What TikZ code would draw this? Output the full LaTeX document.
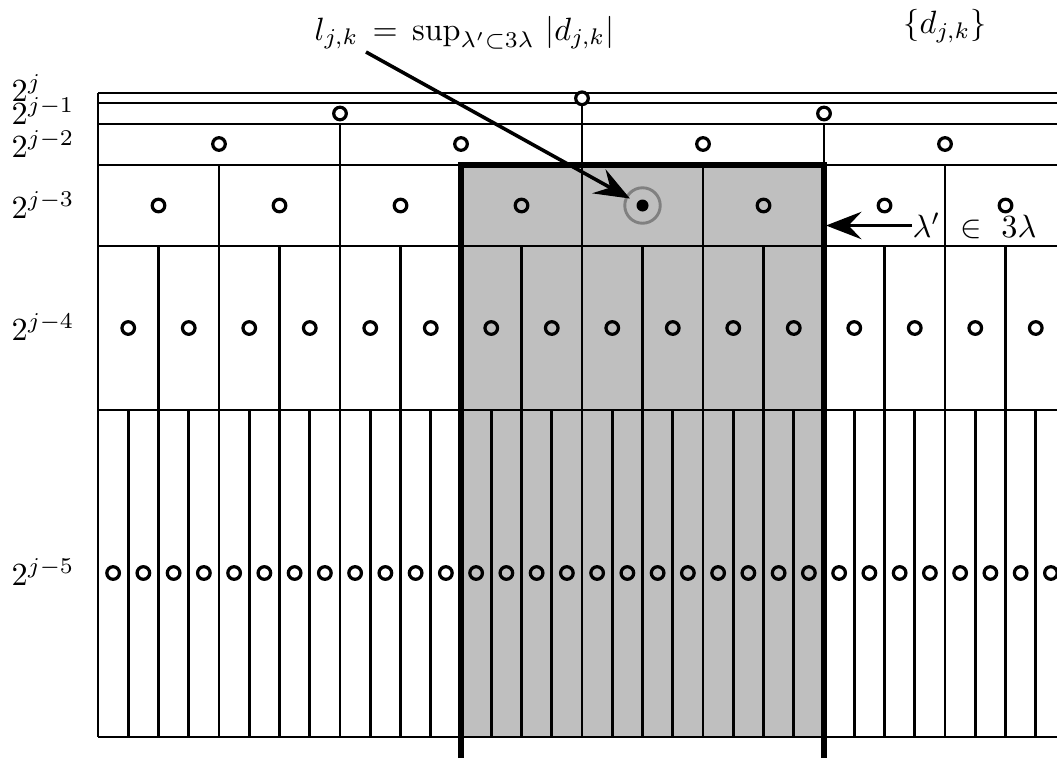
\documentclass[tikz,border=0pt]{standalone}
\usetikzlibrary{arrows.meta}
\begin{document}
\begin{tikzpicture}[x=0.31pt,y=-0.31pt,
  grid/.style={line width=0.9pt},
  frame/.style={line width=1.6pt},
  arr/.style={line width=1.1pt,-{Stealth[length=11pt,width=8.5pt,inset=4pt]}},
  knot/.style={line width=1pt},
  lvl/.style={anchor=base west,inner sep=0pt}]
\useasboundingbox (0,0) rectangle (1057,758);
\begin{scope}
\clip (0,0) rectangle (1057,758);
% shaded region
\fill[black!25] (461,165) rectangle (824,737);
% horizontal lines
\foreach \y in {93,103,124,165,246,410,737}
  \draw[grid] (98,\y) -- (1070,\y);
\draw[grid] (98,93) -- (98,737);
% vertical lines per level
\draw[grid] (582,98) -- (582,124);
\foreach \x in {340,582,824} \draw[grid] (\x,124) -- (\x,165);
\foreach \k in {1,...,7} \draw[grid] ({98+\k*121},165) -- ({98+\k*121},246);
\foreach \k in {1,...,15} \draw[grid] ({98+\k*60.5},246) -- ({98+\k*60.5},410);
\foreach \k in {1,...,31} \draw[grid] ({98+\k*30.25},410) -- ({98+\k*30.25},737);
% knots
\draw[knot,fill=white] (582,98.3) circle[radius=6.3];
\foreach \k in {0,1} \draw[knot,fill=white] ({98+(\k+0.5)*484},113.5) circle[radius=6.3];
\foreach \k in {0,...,3} \draw[knot,fill=white] ({98+(\k+0.5)*242},144) circle[radius=6.3];
\foreach \k in {0,1,2,3,5,6,7} \draw[knot] ({98+(\k+0.5)*121},205.5) circle[radius=6.3];
\foreach \k in {0,...,15} \draw[knot] ({98+(\k+0.5)*60.5},328) circle[radius=6.3];
\foreach \k in {0,...,31} \draw[knot] ({98+(\k+0.5)*30.25},573) circle[radius=6.3];
\end{scope}
% thick frame of 3 lambda
\draw[frame] (461,758) -- (461,165) -- (824,165) -- (824,758);
% selected coefficient
\node[circle,draw=black!50,line width=0.9pt,minimum size=11pt,inner sep=0pt] (target) at (642.5,205.5) {};
\fill (target.center) circle[radius=6];
% level labels
\node[lvl] (l0) at (11,101) {$2^{j}$};
\node[lvl] (l1) at (11,124) {$2^{j-1}$};
\node[lvl] (l2) at (11,157) {$2^{j-2}$};
\node[lvl] (l3) at (11,218) {$2^{j-3}$};
\node[lvl] (l4) at (11,340) {$2^{j-4}$};
\node[lvl] (l5) at (11,585) {$2^{j-5}$};
% texts
\node[lvl] (form) at (314,40) {$l_{j,k}\,=\,\sup_{\lambda'\subset 3\lambda}\,|d_{j,k}|$};
\node[inner sep=0pt] (dset) at (945,26) {$\{d_{j,k}\}$};
\node[lvl] (lam) at (912,237) {$\lambda'\ \in\ 3\lambda$};
% arrows
\coordinate (a1) at (366,52);
\draw[arr,shorten >=-1.5pt] (a1) -- (target);
\coordinate (a2) at (826,226);
\draw[arr] (lam.west) -- (a2 |- lam.west);
\end{tikzpicture}
\end{document}
